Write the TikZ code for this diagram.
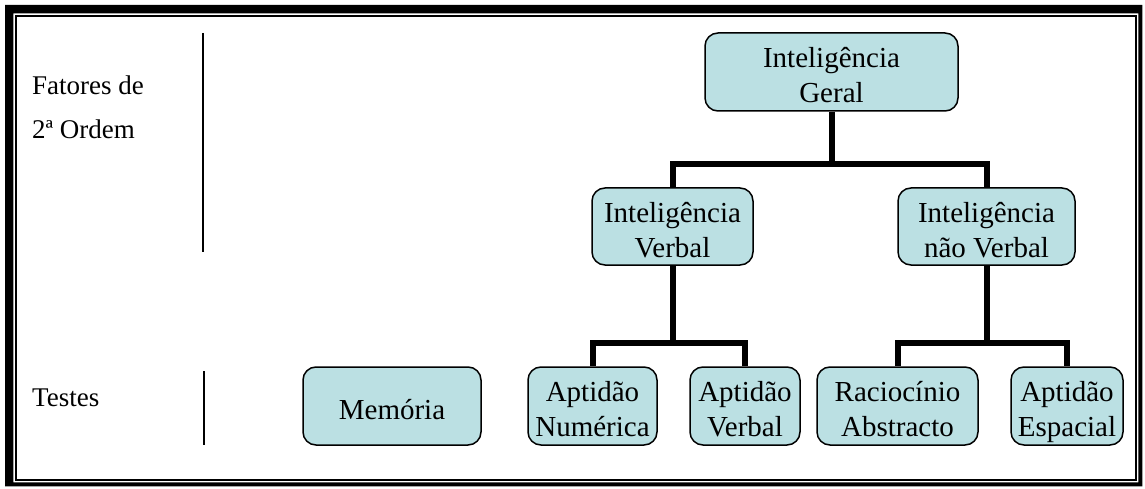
\documentclass[tikz,border=0pt]{standalone}
\usepackage{fontspec}
\setmainfont{Liberation Serif}
\definecolor{boxfill}{HTML}{BBE0E3}
\begin{document}
\begin{tikzpicture}[x=1pt,y=-1pt,
  box/.style={draw=black, line width=1.5pt, fill=boxfill, rounded corners=13pt,
    inner sep=0pt, align=center, font=\fontsize{29}{35}\selectfont,
    text height=69pt, text depth=8pt},
  conn/.style={line width=6pt, line join=miter},
  sep/.style={line width=2pt},
  lbl/.style={anchor=base west, inner sep=0pt, font=\fontsize{27}{33}\selectfont}]
\useasboundingbox (0,0) rectangle (1145,489);
% frame
\fill[black, even odd rule] (5,5) rectangle (1142.3,486.3) (13.3,13.3) rectangle (1138.3,482.3);
\draw[line width=1.7pt] (15.8,15.8) rectangle (1135.8,479.8);
% left labels
\node[lbl] (f1) at (32,95) {Fatores de};
\node[lbl] (f2) at (32,139) {2ª Ordem};
\node[lbl] (t) at (32,406) {Testes};
\coordinate (s1a) at (203,33);
\coordinate (s1b) at (203,252);
\coordinate (s2a) at (204,371);
\coordinate (s2b) at (204,445);
\draw[sep] (s1a) -- (s1b);
\draw[sep] (s2a) -- (s2b);
% boxes
\node[box, minimum width=253pt, minimum height=78pt] (geral) at (831.5,72) {Inteligência\\Geral};
\node[box, minimum width=161pt, minimum height=77pt] (iv) at (672.5,226.5) {Inteligência\\Verbal};
\node[box, minimum width=177pt, minimum height=77pt] (inv) at (986.5,226.5) {Inteligência\\não Verbal};
\node[box, minimum width=178pt, minimum height=78pt, text height=52pt, text depth=26pt] (mem) at (392,406) {Memória};
\node[box, minimum width=129pt, minimum height=78pt] (an) at (592.5,406) {Aptidão\\Numérica};
\node[box, minimum width=110pt, minimum height=78pt] (av) at (745,406) {Aptidão\\Verbal};
\node[box, minimum width=161pt, minimum height=78pt] (ra) at (897.5,406) {Raciocínio\\Abstracto};
\node[box, minimum width=112pt, minimum height=78pt] (ae) at (1067,406) {Aptidão\\Espacial};
% connectors
\draw[conn] (geral.south) -- ++(0,52) coordinate (jg) -| (iv.north);
\draw[conn] (jg) -| (inv.north);
\draw[conn] (iv.south) -- ++(0,77) coordinate (jv) -| (an.north);
\draw[conn] (jv) -| (av.north);
\draw[conn] (inv.south) -- ++(0,77) coordinate (jn) -| (ra.north);
\draw[conn] (jn) -| (ae.north);
\end{tikzpicture}
\end{document}
